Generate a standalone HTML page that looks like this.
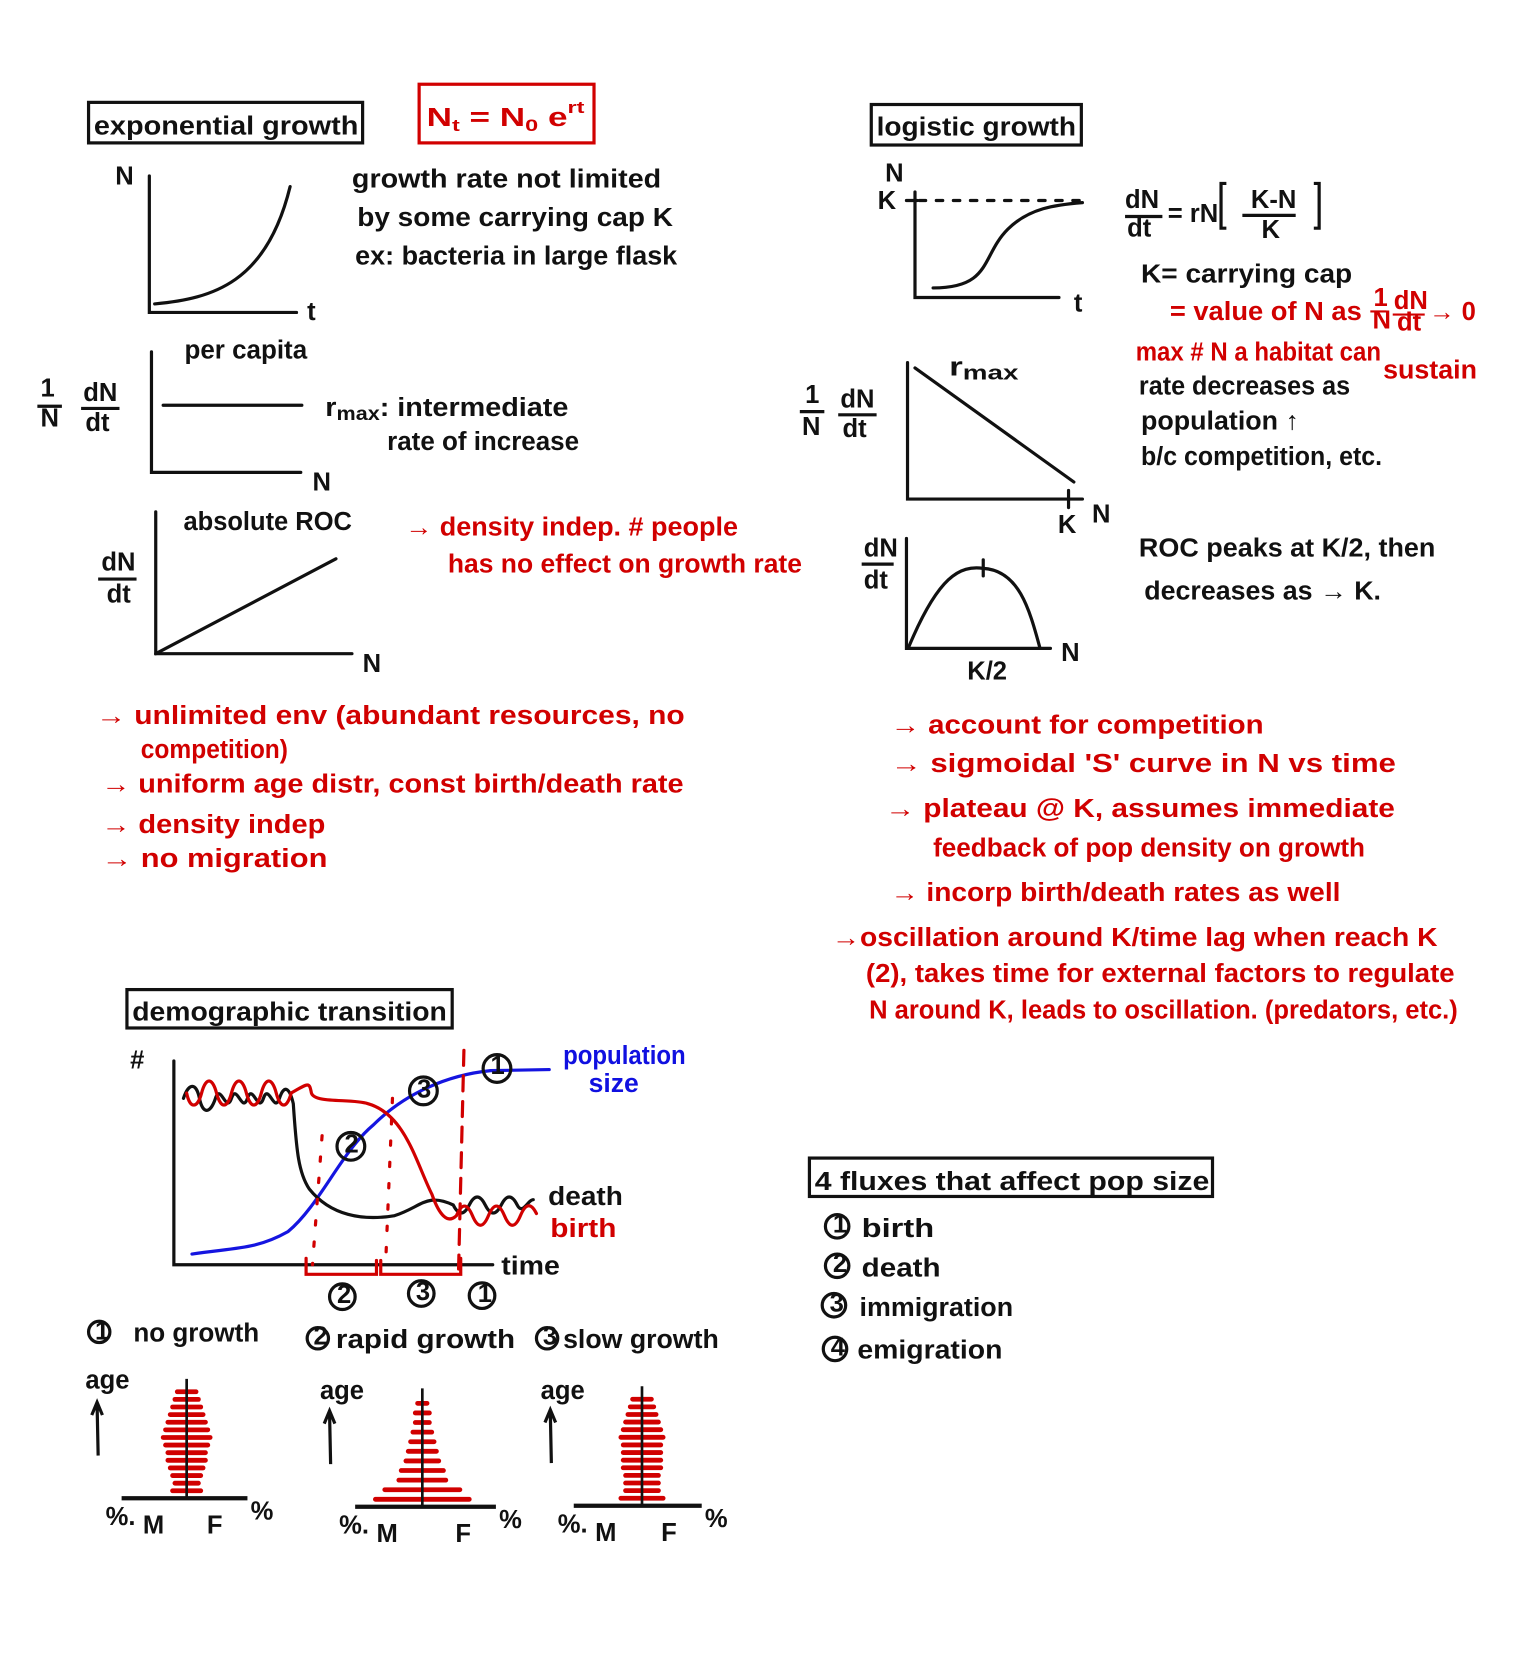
<!DOCTYPE html>
<html><head><meta charset="utf-8"><style>
html,body{margin:0;padding:0;background:#fff;}
svg{display:block;}
text{font-family:"Liberation Sans Narrow","Liberation Sans",sans-serif;font-weight:bold;font-size:24px;}
.k{fill:#111;} .r{fill:#d10000;} .b{fill:#1010e0;}
</style></head><body>
<svg id="s" width="1525" height="1671" viewBox="0 0 1430 1567" xmlns="http://www.w3.org/2000/svg">
<g fill="none" stroke="#111" stroke-width="3" stroke-linecap="round">
<!-- exponential -->
<rect x="83" y="96" width="257" height="38"/>
<rect x="393" y="79" width="164" height="55" stroke="#d10000"/>
<path d="M140 165 V293 H278"/>
<path d="M145 285 C200 280 250 265 272 175"/>
<path d="M142 330 V443 H282"/>
<path d="M153 380 H283"/>
<path d="M146 480 V613 H330"/>
<path d="M146 613 L315 524"/>
<!-- logistic -->
<rect x="817" y="98" width="197" height="38"/>
<path d="M858 180 V279 H993"/>
<path d="M850 188 H860" />
<path d="M862 188 H1018" stroke-dasharray="6 10"/>
<path d="M875 270 C930 270 920 240 945 215 C965 195 990 192 1015 190"/>
<path d="M851 340 V468 H1015"/>
<path d="M1002 460 V476"/>
<path d="M858 345 L1007 452"/>
<path d="M850 505 V608 H985"/>
<path d="M852 607 C880 540 900 530 922 533 C955 535 965 570 975 607"/>
<path d="M922 525 V540"/>
<!-- demographic -->
<rect x="119" y="928" width="305" height="36"/>
<path d="M163 995 V1186 H462"/>
<rect x="759" y="1086" width="378" height="36"/>
</g>
<g fill="none" stroke-width="3" stroke-linecap="round">
<path d="M180 1176 C220 1170 240 1172 270 1155 C300 1130 320 1080 350 1055 C380 1025 420 1008 460 1004 L515 1003" stroke="#1515e0"/>
<path d="M172 1030 c5-15 12-15 15 0 s10 15 15 0 s10 15 15 0 s10 15 15 0 s10 15 15 0 s10 15 15 0 s10-8 13 5 C278 1080 280 1100 290 1115 C310 1140 340 1145 370 1140 C395 1132 400 1118 425 1130 c5 10 10 10 15 0 s10-10 15 0 s10 10 15 0 s10-10 15 0 s10-5 15 -5" stroke="#111"/>
<path d="M175 1025 c3 15 10 15 14 0 s10-15 14 0 s10 15 14 0 s10-15 14 0 s10 15 14 0 s10-15 14 0 s10 15 14 0 C290 1015 290 1015 292 1025 C295 1035 330 1030 345 1035 C380 1045 390 1090 405 1120 C412 1140 420 1148 428 1140 c5-12 10-12 15 0 s10 12 15 0 s10-12 15 0 s10 12 15 0 s10-12 15 -2" stroke="#d10000"/>
<g stroke="#d10000" stroke-dasharray="4 16">
<path d="M302 1065 L293 1186"/>
<path d="M368 1030 L362 1175"/>
</g>
<path d="M435 985 L430 1190" stroke="#d10000" stroke-dasharray="14 10"/>
<path d="M287 1180 V1195 H353 V1182 M357 1182 V1195 H432 V1180" stroke="#d10000"/>
<g stroke="#111">
<circle cx="466" cy="1002" r="13"/><circle cx="397" cy="1023" r="13"/><circle cx="329" cy="1075" r="13"/>
<circle cx="321" cy="1216" r="12"/><circle cx="395" cy="1213" r="12"/><circle cx="452" cy="1215" r="12"/>
<circle cx="93" cy="1249" r="10"/><circle cx="298" cy="1255" r="10"/><circle cx="513" cy="1255" r="10"/>
<circle cx="785" cy="1150" r="11"/><circle cx="785" cy="1187" r="11"/><circle cx="782" cy="1224" r="11"/><circle cx="783" cy="1265" r="11"/>
</g>
</g>
<g id="pyr"></g>
<!-- text -->
<g class="k">
<text x="88" y="126" textLength="248" lengthAdjust="spacingAndGlyphs">exponential growth</text>
<text x="108" y="173">N</text><text x="288" y="300">t</text>
<text x="330" y="176" textLength="290" lengthAdjust="spacingAndGlyphs">growth rate not limited</text>
<text x="335" y="212" textLength="296" lengthAdjust="spacingAndGlyphs">by some carrying cap K</text>
<text x="333" y="248" textLength="302" lengthAdjust="spacingAndGlyphs">ex: bacteria in large flask</text>
<text x="173" y="336" textLength="115" lengthAdjust="spacingAndGlyphs">per capita</text>
<text x="38" y="372">1</text><path d="M35 381 H58" stroke="#111" stroke-width="3"/><text x="38" y="400">N</text>
<text x="78" y="376">dN</text><path d="M76 383 H112" stroke="#111" stroke-width="3"/><text x="80" y="404">dt</text>
<text x="305" y="390" textLength="228" lengthAdjust="spacingAndGlyphs">r<tspan font-size="18" dy="4">max</tspan><tspan dy="-4">: intermediate</tspan></text>
<text x="363" y="422" textLength="180" lengthAdjust="spacingAndGlyphs">rate of increase</text>
<text x="293" y="460">N</text>
<text x="172" y="497" textLength="158" lengthAdjust="spacingAndGlyphs">absolute ROC</text>
<text x="95" y="535">dN</text><path d="M92 543 H128" stroke="#111" stroke-width="3"/><text x="100" y="565">dt</text>
<text x="340" y="630">N</text>
<text x="822" y="127" textLength="187" lengthAdjust="spacingAndGlyphs">logistic growth</text>
<text x="830" y="170">N</text><text x="823" y="196">K</text><text x="1007" y="292">t</text>
<text x="1055" y="195">dN</text><path d="M1055 203 H1090" stroke="#111" stroke-width="3"/><text x="1057" y="222">dt</text>
<text x="1095" y="208">= rN</text>
<path d="M1150 172 h-5 v42 h5 M1232 172 h5 v42 h-5" stroke="#111" stroke-width="3" fill="none"/>
<text x="1173" y="195">K-N</text><path d="M1165 202 H1215" stroke="#111" stroke-width="3"/><text x="1183" y="223">K</text>
<text x="1070" y="265" textLength="198" lengthAdjust="spacingAndGlyphs">K= carrying cap</text>
<text x="1068" y="370" textLength="198" lengthAdjust="spacingAndGlyphs">rate decreases as</text>
<text x="1070" y="403" textLength="148" lengthAdjust="spacingAndGlyphs">population ↑</text>
<text x="1070" y="436" textLength="226" lengthAdjust="spacingAndGlyphs">b/c competition, etc.</text>
<text x="890" y="352" textLength="65" lengthAdjust="spacingAndGlyphs">r<tspan font-size="19" dy="4">max</tspan></text>
<text x="755" y="378">1</text><path d="M750 386 H773" stroke="#111" stroke-width="3"/><text x="752" y="408">N</text>
<text x="788" y="382">dN</text><path d="M786 389 H822" stroke="#111" stroke-width="3"/><text x="790" y="410">dt</text>
<text x="992" y="500">K</text><text x="1024" y="490">N</text>
<text x="810" y="522">dN</text><path d="M808 529 H838" stroke="#111" stroke-width="3"/><text x="810" y="552">dt</text>
<text x="907" y="637">K/2</text><text x="995" y="620">N</text>
<text x="1068" y="522" textLength="278" lengthAdjust="spacingAndGlyphs">ROC peaks at K/2, then</text>
<text x="1073" y="562" textLength="222" lengthAdjust="spacingAndGlyphs">decreases as → K.</text>
<text x="124" y="957" textLength="295" lengthAdjust="spacingAndGlyphs">demographic transition</text>
<text x="122" y="1002">#</text>
<text x="460" y="1007" font-size="18">1</text><text x="391" y="1029" font-size="18">3</text><text x="323" y="1081" font-size="18">2</text>
<text x="316" y="1222" font-size="17">2</text><text x="390" y="1219" font-size="17">3</text><text x="448" y="1221" font-size="17">1</text>
<text x="514" y="1130" textLength="70" lengthAdjust="spacingAndGlyphs">death</text>
<text x="470" y="1195" textLength="55" lengthAdjust="spacingAndGlyphs">time</text>
<text x="89" y="1256" font-size="15">1</text><text x="294" y="1261" font-size="15">2</text><text x="509" y="1261" font-size="15">3</text>
<text x="125" y="1258" textLength="118" lengthAdjust="spacingAndGlyphs">no growth</text>
<text x="315" y="1264" textLength="168" lengthAdjust="spacingAndGlyphs">rapid growth</text>
<text x="528" y="1264" textLength="146" lengthAdjust="spacingAndGlyphs">slow growth</text>
<text x="764" y="1116" textLength="370" lengthAdjust="spacingAndGlyphs">4 fluxes that affect pop size</text>
<text x="781" y="1156" font-size="15">1</text><text x="781" y="1193" font-size="15">2</text><text x="778" y="1230" font-size="15">3</text><text x="779" y="1271" font-size="15">4</text>
<text x="808" y="1160" textLength="68" lengthAdjust="spacingAndGlyphs">birth</text>
<text x="808" y="1197" textLength="74" lengthAdjust="spacingAndGlyphs">death</text>
<text x="806" y="1234" textLength="144" lengthAdjust="spacingAndGlyphs">immigration</text>
<text x="804" y="1274" textLength="136" lengthAdjust="spacingAndGlyphs">emigration</text>
</g>
<g class="r">
<text x="400" y="118" textLength="148" lengthAdjust="spacingAndGlyphs">N<tspan font-size="16" dy="5">t</tspan><tspan dy="-5"> = N</tspan><tspan font-size="16" dy="5">0</tspan><tspan dy="-5"> e</tspan><tspan font-size="16" dy="-12">rt</tspan></text>
<text x="380" y="502" textLength="312" lengthAdjust="spacingAndGlyphs">→ density indep. # people</text>
<text x="420" y="537" textLength="332" lengthAdjust="spacingAndGlyphs">has no effect on growth rate</text>
<text x="90" y="679" textLength="552" lengthAdjust="spacingAndGlyphs">→ unlimited env (abundant resources, no</text>
<text x="132" y="711" textLength="138" lengthAdjust="spacingAndGlyphs">competition)</text>
<text x="95" y="743" textLength="546" lengthAdjust="spacingAndGlyphs">→ uniform age distr, const birth/death rate</text>
<text x="95" y="781" textLength="210" lengthAdjust="spacingAndGlyphs">→ density indep</text>
<text x="95" y="813" textLength="212" lengthAdjust="spacingAndGlyphs">→ no migration</text>
<text x="1097" y="300" textLength="180" lengthAdjust="spacingAndGlyphs">= value of N as</text>
<text x="1288" y="287" font-size="16">1</text><path d="M1285 292 H1300" stroke="#d10000" stroke-width="2"/><text x="1287" y="308" font-size="16">N</text>
<text x="1307" y="290" font-size="18">dN</text><path d="M1306 295 H1336" stroke="#d10000" stroke-width="2"/><text x="1310" y="310" font-size="18">dt</text>
<text x="1340" y="300">→ 0</text>
<text x="1065" y="338" textLength="230" lengthAdjust="spacingAndGlyphs">max # N a habitat can</text>
<text x="1297" y="355" textLength="88" lengthAdjust="spacingAndGlyphs">sustain</text>
<text x="835" y="688" textLength="350" lengthAdjust="spacingAndGlyphs">→ account for competition</text>
<text x="835" y="724" textLength="474" lengthAdjust="spacingAndGlyphs">→ sigmoidal 'S' curve in N vs time</text>
<text x="830" y="766" textLength="478" lengthAdjust="spacingAndGlyphs">→ plateau @ K, assumes immediate</text>
<text x="875" y="803" textLength="405" lengthAdjust="spacingAndGlyphs">feedback of pop density on growth</text>
<text x="835" y="845" textLength="422" lengthAdjust="spacingAndGlyphs">→ incorp birth/death rates as well</text>
<text x="780" y="887" textLength="568" lengthAdjust="spacingAndGlyphs">→oscillation around K/time lag when reach K</text>
<text x="812" y="921" textLength="552" lengthAdjust="spacingAndGlyphs">(2), takes time for external factors to regulate</text>
<text x="815" y="955" textLength="552" lengthAdjust="spacingAndGlyphs">N around K, leads to oscillation. (predators, etc.)</text>
<text x="516" y="1160" textLength="62" lengthAdjust="spacingAndGlyphs">birth</text>
</g>
<g class="b">
<text x="528" y="998" textLength="115" lengthAdjust="spacingAndGlyphs">population</text>
<text x="552" y="1024" textLength="47" lengthAdjust="spacingAndGlyphs">size</text>
</g>
</svg>
<script>
// pyramid half-widths of age bars (bottom to top), in % units
const pyr1Widths = [6, 5, 6, 7, 8, 8, 9, 10, 9, 8, 7, 6, 5, 4];
const pyr2Widths = [20, 16, 10, 9, 7, 6, 5, 4, 3, 3, 2];
const pyr3Widths = [9, 7, 7, 7, 8, 8, 8, 8, 9, 8, 7, 6, 5, 4];
const pyrLabels = ["no growth", "rapid growth", "slow growth"];
const NS = "http://www.w3.org/2000/svg";
const g = document.getElementById("pyr");
const pyrs = [
  {cx:175, base:1405, top:1293, x0:114, x1:232, arrowX:92, ageX:80, ageY:1302, data:pyr1Widths},
  {cx:396, base:1413, top:1302, x0:333, x1:465, arrowX:310, ageX:300, ageY:1312, data:pyr2Widths},
  {cx:602, base:1412, top:1300, x0:538, x1:658, arrowX:517, ageX:507, ageY:1312, data:pyr3Widths}
];
function mk(tag, attrs){const e=document.createElementNS(NS,tag);for(const k in attrs)e.setAttribute(k,attrs[k]);return e;}
const scaleX = v => v * 2.2;
pyrs.forEach((p, i) => {
  const pg = mk("g", {});
  
  
  const n = p.data.length;
  const step = (p.base - p.top - 12) / n;
  p.data.forEach((w, j) => {
    const y = p.base - 7 - j * step;
    const bar = mk("line", {x1:p.cx - scaleX(w), x2:p.cx + scaleX(w), y1:y, y2:y, stroke:"#d10000", "stroke-width":4.5, "stroke-linecap":"round"});
    
    
    pg.appendChild(bar);
  });
  pg.appendChild(mk("line", {x1:p.cx, x2:p.cx, y1:p.top, y2:p.base, stroke:"#111", "stroke-width":2.5}));
  pg.appendChild(mk("line", {x1:p.x0, x2:p.x1, y1:p.base, y2:p.base, stroke:"#111", "stroke-width":4}));
  pg.appendChild(mk("path", {d:`M${p.arrowX} ${p.base-40} L${p.arrowX-1} ${p.base-88} M${p.arrowX-6} ${p.base-78} L${p.arrowX-1} ${p.base-90} L${p.arrowX+4} ${p.base-78}`, stroke:"#111", "stroke-width":3, fill:"none"}));
  const age = mk("text", {x:p.ageX, y:p.ageY, class:"k"}); age.textContent = "age"; pg.appendChild(age);
  const l1 = mk("text", {x:p.x0-15, y:p.base+25, class:"k"}); l1.textContent = "%."; pg.appendChild(l1);
  const l2 = mk("text", {x:p.x0+20, y:p.base+33, class:"k", "font-size":20}); l2.textContent = "M"; pg.appendChild(l2);
  const l3 = mk("text", {x:p.x1-38, y:p.base+33, class:"k", "font-size":20}); l3.textContent = "F"; pg.appendChild(l3);
  const l4 = mk("text", {x:p.x1+3, y:p.base+20, class:"k"}); l4.textContent = "%"; pg.appendChild(l4);
  g.appendChild(pg);
});
</script>
</body></html>
